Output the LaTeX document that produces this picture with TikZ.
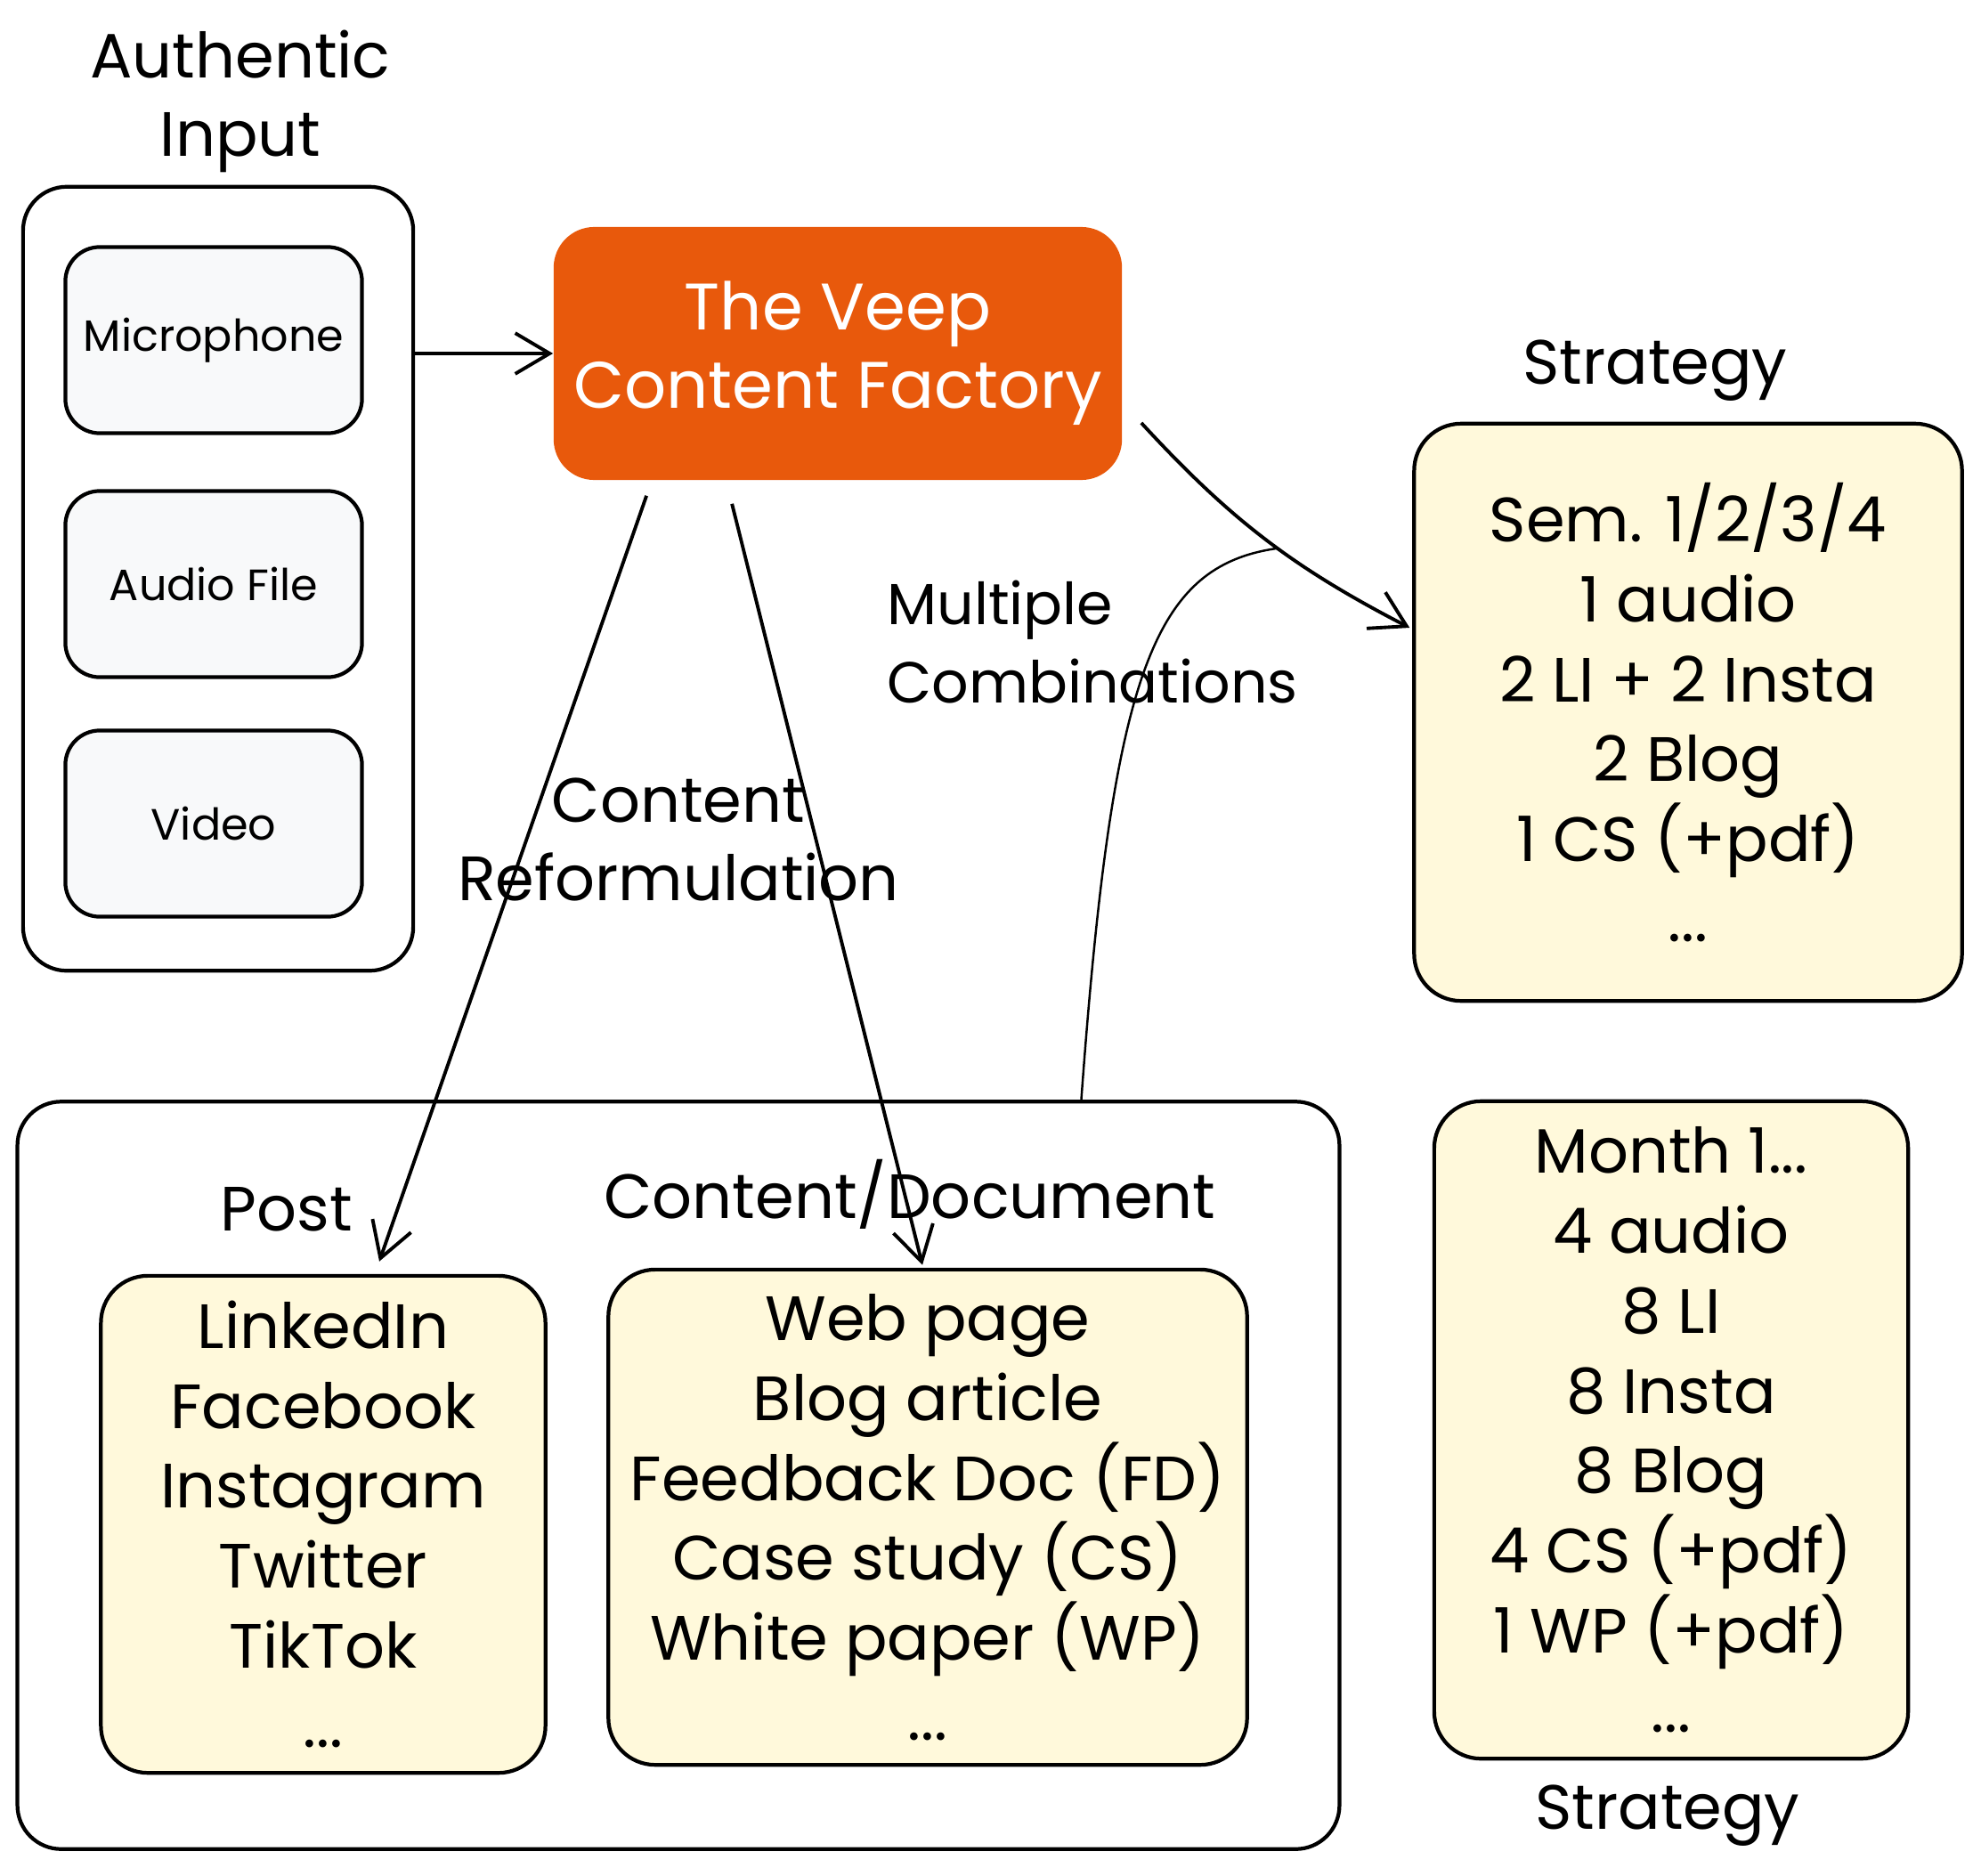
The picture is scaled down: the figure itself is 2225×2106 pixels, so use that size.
\documentclass[tikz,border=0pt]{standalone}
\usepackage{fontspec}
\setmainfont{Poppins}
\usepackage{tikz}
\usetikzlibrary{arrows.meta}
\usetikzlibrary{calc}
\usetikzlibrary{positioning}
\definecolor{veep}{HTML}{E8590C}
\definecolor{note}{HTML}{FFF9DB}
\definecolor{pale}{HTML}{F8F9FA}
\tikzstyle{grp}=[shape=rectangle,draw,line width=1.2pt,rounded corners=14pt,inner sep=0pt]
\tikzstyle{src}=[shape=rectangle,draw,line width=1.2pt,rounded corners=11pt,fill=pale,inner sep=0pt,minimum width=3.33cm,minimum height=2.09cm,font=\fontsize{14}{17}\selectfont]
\tikzstyle{fab}=[shape=rectangle,fill=veep,rounded corners=13pt,inner sep=0pt,text=white,align=center,font=\fontsize{21}{25}\selectfont]
\tikzstyle{plan}=[shape=rectangle,draw,line width=1.2pt,rounded corners=15pt,fill=note,inner sep=0pt,align=center,font=\fontsize{20}{25.5}\selectfont]
\tikzstyle{lbl}=[align=center,font=\fontsize{20}{25}\selectfont]
\tikzstyle{tran}=[draw,line width=1.1pt,-{Straight Barb[length=11pt,width=13pt]}]

\begin{document}
\begin{tikzpicture}[x=0.01cm,y=-0.01cm]
		\useasboundingbox (0,0) rectangle (2225,2106);
		\node[grp,minimum width=4.38cm,minimum height=8.8cm] (inbox) at (245,650) {};
		\node[src] (mic) at (240,382) {Microphone};
		\node[src] (aud) at (240,656) {Audio File};
		\node[src] (vid) at (240,925) {Video};
		\node[lbl] (lauth) at (270,114) {Authentic\\Input};
		\node[fab,minimum width=6.38cm,minimum height=2.84cm] (fac) at (941,397) {The Veep\\Content Factory};
		\node[lbl] (lstrat) at (1859,416) {Strategy};
		\node[plan,minimum width=6.15cm,minimum height=6.48cm] (strat) at (1896,800)
		{Sem. 1/2/3/4\\1 audio\\2 LI + 2 Insta\\2 Blog\\1 CS (+pdf)\\...};
		\node[lbl,align=left,anchor=west,font=\fontsize{18.5}{25}\selectfont] (lmult) at (984,721) {Multiple\\Combinations};
		\node[lbl] (lref) at (762,943) {Content\\Reformulation};
		\node[grp,minimum width=14.84cm,minimum height=8.39cm] (outbox) at (762,1657) {};
		\node[lbl] (lpost) at (322,1358) {Post};
		\node[lbl] (ldoc) at (1022,1341) {Content/Document};
		\node[plan,minimum width=4.99cm,minimum height=5.58cm] (post) at (363,1712)
		{LinkedIn\\Facebook\\Instagram\\Twitter\\TikTok\\...};
		\node[plan,minimum width=7.17cm,minimum height=5.56cm] (cont) at (1042,1704)
		{Web page\\Blog article\\Feedback Doc (FD)\\Case study (CS)\\White paper (WP)\\...};
		\node[plan,minimum width=5.32cm,minimum height=7.38cm] (month) at (1877,1606)
		{Month 1...\\4 audio\\8 LI\\8 Insta\\8 Blog\\4 CS (+pdf)\\1 WP (+pdf)\\...};
		\node[lbl] (lstrat2) at (1873,2039) {Strategy};
%		
		\draw[tran] (inbox.east |- fac.west) -- (fac.west);
		\draw[tran] ($(fac.south west)+(105,17)$) -- ($(post.north)+(63,-14)$);
		\draw[tran] ($(fac.south west)+(201,26)$) -- ($(cont.north)+(-6,-3)$);
		\draw[tran] ($(fac.east)+(21,78)$) to[bend right=10] coordinate[pos=0.55] (mix) 
		($(strat.west)+(-3,-95)$);
		\draw[line width=0.7pt] ($(outbox.north west)+(1197,0)$) .. controls +(35,-480) 
		and +(-140,20) .. (mix);
\end{tikzpicture}
\end{document}
